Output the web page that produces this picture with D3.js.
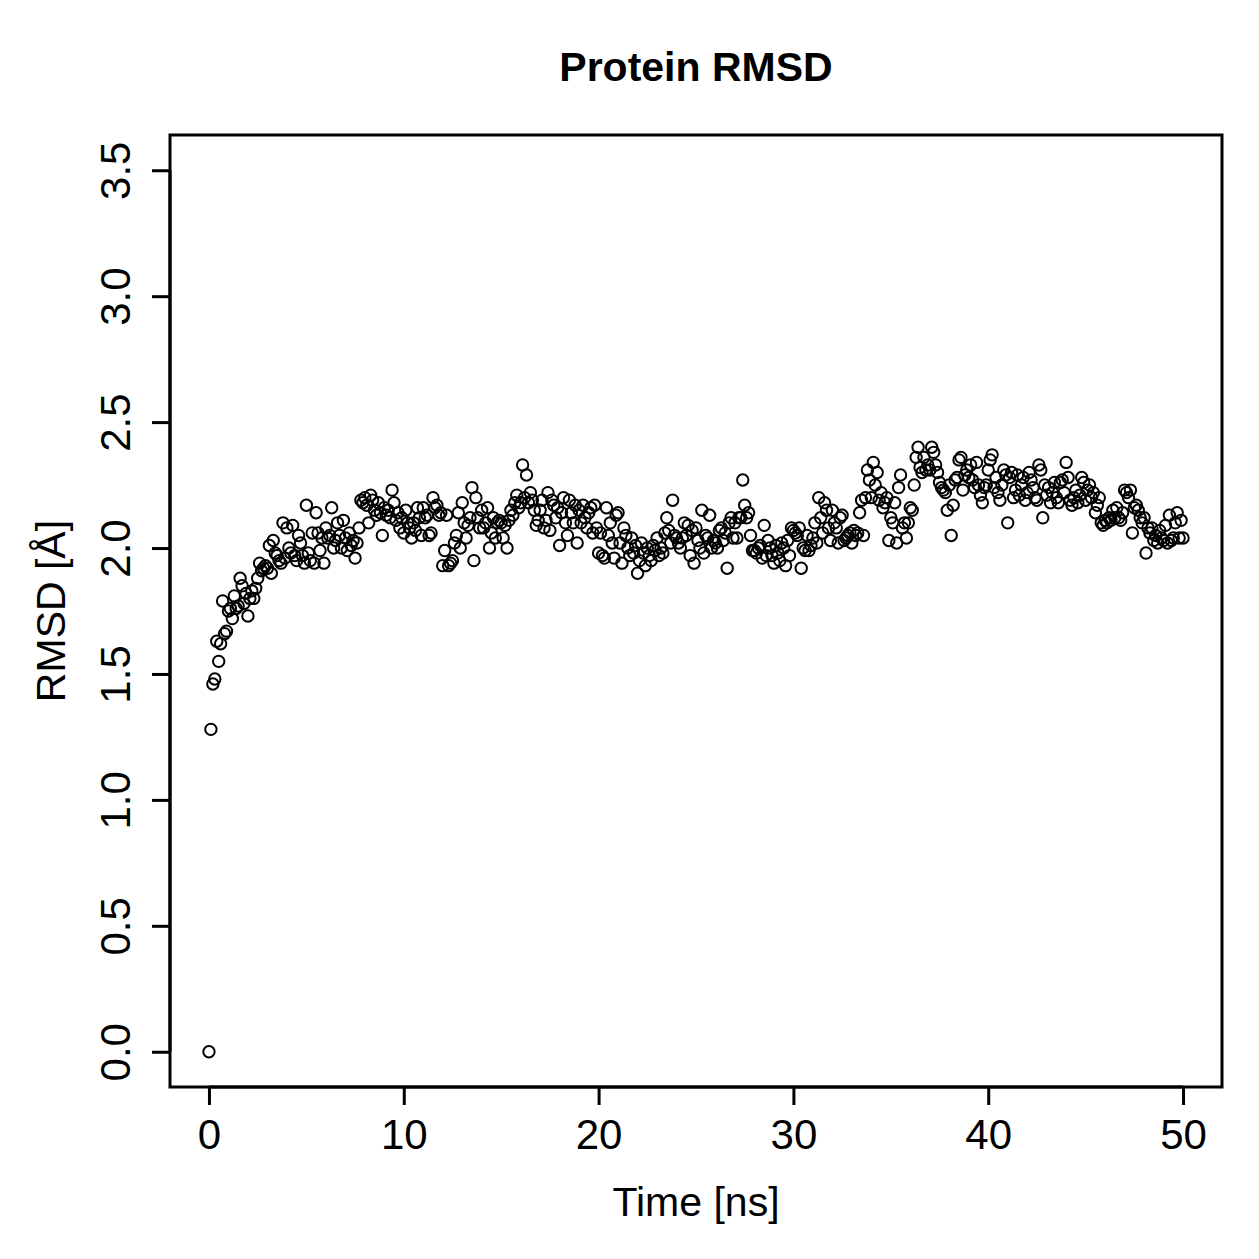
<!DOCTYPE html>
<html>
<head>
<meta charset="utf-8">
<script src="https://cdn.jsdelivr.net/npm/d3@7"></script>
<style>
  body { margin: 0; background: #fff; }
  text { font-family: "Liberation Sans", Arial, sans-serif; fill: #000; }
</style>
</head>
<body>
<div id="chart"></div>
<script>
// RMSD sampled every 0.1 ns, one row per ns
const rmsd = [
  0.00, 1.28, 1.46, 1.48, 1.63, 1.55, 1.62, 1.79, 1.66, 1.67,
  1.75, 1.76, 1.72, 1.81, 1.76, 1.77, 1.88, 1.85, 1.78, 1.82,
  1.73, 1.80, 1.83, 1.80, 1.84, 1.88, 1.94, 1.91, 1.92, 1.93,
  1.92, 2.01, 1.90, 2.03, 1.98, 1.97, 1.95, 1.94, 2.10, 1.96,
  2.08, 2.00, 1.98, 2.09, 1.97, 1.95, 2.05, 2.02, 1.97, 1.94,
  2.17, 1.98, 1.95, 2.06, 1.94, 2.14, 2.06, 1.99, 2.04, 1.94,
  2.08, 2.04, 2.05, 2.16, 2.00, 2.03, 2.10, 2.05, 2.00, 2.11,
  2.04, 1.99, 2.06, 2.01, 2.03, 1.96, 2.02, 2.08, 2.19, 2.18,
  2.20, 2.17, 2.10, 2.21, 2.19, 2.15, 2.13, 2.18, 2.14, 2.05,
  2.16, 2.13, 2.15, 2.12, 2.23, 2.18, 2.11, 2.14, 2.08, 2.12,
  2.06, 2.15, 2.10, 2.08, 2.04, 2.10, 2.07, 2.16, 2.12, 2.05,
  2.16, 2.12, 2.13, 2.05, 2.06, 2.20, 2.16, 2.17, 2.13, 2.14,
  1.93, 1.99, 2.13, 1.93, 1.94, 1.95, 2.02, 2.05, 2.14, 2.00,
  2.18, 2.10, 2.04, 2.09, 2.12, 2.24, 1.95, 2.20, 2.12, 2.08,
  2.15, 2.08, 2.10, 2.16, 2.00, 2.06, 2.12, 2.04, 2.10, 2.11,
  2.10, 2.04, 2.09, 2.00, 2.11, 2.15, 2.13, 2.18, 2.21, 2.16,
  2.18, 2.33, 2.20, 2.29, 2.18, 2.22, 2.19, 2.15, 2.09, 2.11,
  2.15, 2.19, 2.08, 2.11, 2.22, 2.07, 2.19, 2.17, 2.12, 2.16,
  2.01, 2.14, 2.20, 2.10, 2.05, 2.19, 2.14, 2.10, 2.17, 2.02,
  2.15, 2.10, 2.17, 2.12, 2.08, 2.14, 2.16, 2.06, 2.17, 2.08,
  1.98, 2.06, 1.97, 1.96, 2.16, 2.05, 2.10, 2.02, 1.96, 2.13,
  2.14, 2.02, 1.94, 2.08, 2.05, 2.00, 1.97, 2.04, 1.98, 2.01,
  1.90, 1.95, 2.02, 1.98, 1.93, 2.00, 1.97, 1.95, 2.01, 1.99,
  2.04, 1.97, 2.00, 1.98, 2.06, 2.12, 2.07, 2.02, 2.19, 2.05,
  2.04, 2.02, 2.00, 2.04, 2.10, 2.05, 2.09, 1.97, 2.07, 1.94,
  2.08, 2.03, 2.00, 2.15, 1.98, 2.05, 2.04, 2.13, 2.00, 2.03,
  2.02, 2.00, 2.07, 2.08, 2.03, 2.06, 1.92, 2.10, 2.12, 2.04,
  2.10, 2.04, 2.12, 2.12, 2.27, 2.17, 2.12, 2.14, 2.05, 1.99,
  1.99, 1.98, 2.00, 2.01, 1.96, 2.09, 1.97, 2.03, 2.00, 1.97,
  1.94, 2.01, 1.98, 1.95, 2.02, 2.00, 1.93, 2.03, 1.97, 2.08,
  2.07, 2.06, 2.05, 2.08, 1.92, 2.00, 1.99, 2.05, 1.99, 2.01,
  2.04, 2.10, 2.02, 2.20, 2.12, 2.06, 2.18, 2.15, 2.08, 2.03,
  2.15, 2.10, 2.08, 2.02, 2.12, 2.13, 2.03, 2.04, 2.05, 2.06,
  2.02, 2.07, 2.05, 2.06, 2.14, 2.19, 2.05, 2.20, 2.31, 2.27,
  2.20, 2.34, 2.25, 2.30, 2.19, 2.22, 2.16, 2.18, 2.20, 2.03,
  2.12, 2.10, 2.18, 2.02, 2.24, 2.29, 2.08, 2.10, 2.04, 2.10,
  2.16, 2.15, 2.25, 2.36, 2.40, 2.32, 2.30, 2.36, 2.31, 2.33,
  2.31, 2.40, 2.38, 2.33, 2.30, 2.26, 2.24, 2.23, 2.22, 2.15,
  2.25, 2.05, 2.17, 2.27, 2.28, 2.35, 2.36, 2.23, 2.29, 2.31,
  2.28, 2.33, 2.27, 2.24, 2.34, 2.25, 2.21, 2.18, 2.24, 2.25,
  2.31, 2.35, 2.37, 2.24, 2.28, 2.22, 2.19, 2.25, 2.31, 2.29,
  2.10, 2.28, 2.30, 2.20, 2.23, 2.29, 2.21, 2.25, 2.28, 2.19,
  2.22, 2.30, 2.27, 2.24, 2.20, 2.19, 2.33, 2.31, 2.12, 2.25,
  2.21, 2.24, 2.18, 2.22, 2.26, 2.20, 2.18, 2.26, 2.27, 2.22,
  2.34, 2.28, 2.19, 2.17, 2.20, 2.23, 2.18, 2.21, 2.28, 2.26,
  2.19, 2.23, 2.25, 2.20, 2.22, 2.14, 2.17, 2.20, 2.10, 2.09,
  2.11, 2.10, 2.12, 2.11, 2.15, 2.12, 2.16, 2.12, 2.11, 2.14,
  2.23, 2.22, 2.20, 2.23, 2.06, 2.16, 2.17, 2.15, 2.12, 2.10,
  2.12, 1.98, 2.08, 2.06, 2.08, 2.03, 2.05, 2.02, 2.07, 2.04,
  2.03, 2.09, 2.02, 2.13, 2.03, 2.04, 2.10, 2.14, 2.04, 2.11,
  2.04
];
const timeStep = 0.1;
const xTicks = [0, 10, 20, 30, 40, 50];
const yTicks = [0.0, 0.5, 1.0, 1.5, 2.0, 2.5, 3.0, 3.5];

const W = 1259, H = 1259;
const box = { left: 170, right: 1222, top: 135, bottom: 1087 };
const fontFam = "'Liberation Sans', Arial, sans-serif";

const points = rmsd.map((v, i) => ({ t: +(i * timeStep).toFixed(1), v: v }));

const svg = d3.select("#chart").append("svg")
  .attr("width", W).attr("height", H);

// R-style 4% padding on both axes
const x = d3.scaleLinear().domain([-2, 52]).range([box.left, box.right]);
const y = d3.scaleLinear().domain([-0.14, 3.64]).range([box.bottom, box.top]);

// points
svg.append("g")
  .selectAll("circle")
  .data(points)
  .join("circle")
  .attr("cx", d => x(d.t))
  .attr("cy", d => y(d.v))
  .attr("r", 5.7)
  .attr("fill", "none")
  .attr("stroke", "#000")
  .attr("stroke-width", 2);

// frame
svg.append("rect")
  .attr("x", box.left).attr("y", box.top)
  .attr("width", box.right - box.left).attr("height", box.bottom - box.top)
  .attr("fill", "none").attr("stroke", "#000").attr("stroke-width", 3);

// x axis
const xAxis = svg.append("g")
  .attr("transform", `translate(0,${box.bottom})`)
  .call(d3.axisBottom(x).tickValues(xTicks).tickSize(18).tickPadding(14).tickFormat(d3.format("d")));
xAxis.select(".domain")
  .attr("d", `M${x(0)},0H${x(50)}`)
  .attr("stroke-width", 3);
xAxis.selectAll(".tick line").attr("stroke-width", 3);
xAxis.selectAll("text").style("font-size", "42px").style("font-family", fontFam);

// y axis
const yAxis = svg.append("g")
  .attr("transform", `translate(${box.left},0)`)
  .call(d3.axisLeft(y).tickValues(yTicks).tickSize(18).tickFormat(d3.format(".1f")));
yAxis.select(".domain")
  .attr("d", `M0,${y(0)}V${y(3.5)}`)
  .attr("stroke-width", 3);
yAxis.selectAll(".tick line").attr("stroke-width", 3);
yAxis.selectAll("text")
  .style("font-size", "42px")
  .style("font-family", fontFam)
  .attr("text-anchor", "middle")
  .attr("dy", null)
  .attr("x", null)
  .attr("transform", "translate(-40,0) rotate(-90)");

// titles
svg.append("text")
  .attr("x", (box.left + box.right) / 2).attr("y", 81)
  .attr("text-anchor", "middle")
  .style("font-size", "41px").style("font-weight", "bold")
  .text("Protein RMSD");

svg.append("text")
  .attr("x", (box.left + box.right) / 2).attr("y", 1216)
  .attr("text-anchor", "middle")
  .style("font-size", "41px")
  .text("Time [ns]");

svg.append("text")
  .attr("transform", `translate(65,${(box.top + box.bottom) / 2}) rotate(-90)`)
  .attr("text-anchor", "middle")
  .style("font-size", "41px")
  .text("RMSD [Å]");
</script>
</body>
</html>
